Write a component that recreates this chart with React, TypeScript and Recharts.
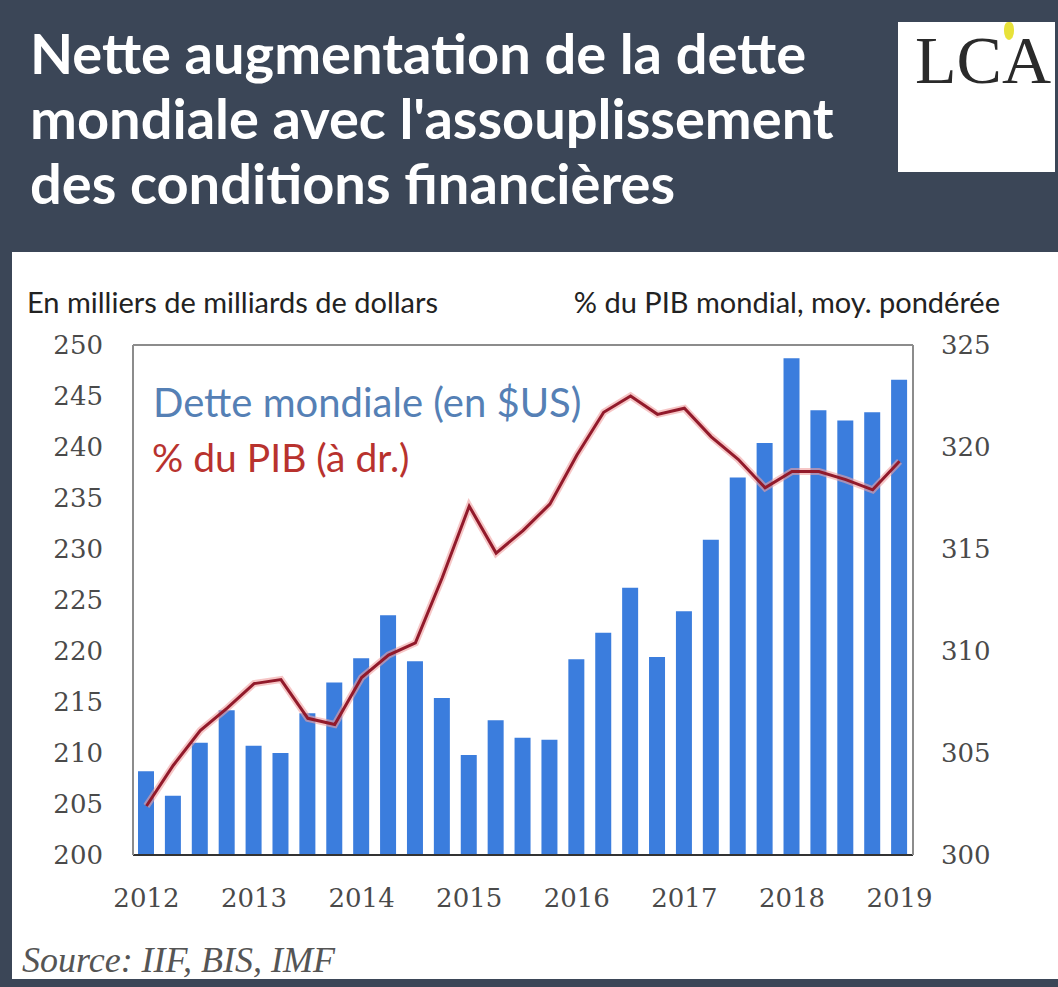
import React from "react";
import { ComposedChart, Bar, Line, XAxis, YAxis, ReferenceLine } from "recharts";

const quarters = [
  "2012 T1", "2012 T2", "2012 T3", "2012 T4",
  "2013 T1", "2013 T2", "2013 T3", "2013 T4",
  "2014 T1", "2014 T2", "2014 T3", "2014 T4",
  "2015 T1", "2015 T2", "2015 T3", "2015 T4",
  "2016 T1", "2016 T2", "2016 T3", "2016 T4",
  "2017 T1", "2017 T2", "2017 T3", "2017 T4",
  "2018 T1", "2018 T2", "2018 T3", "2018 T4",
  "2019 T1",
];

const detteMondiale = [
  208.2, 205.8, 211.0, 214.2,
  210.7, 210.0, 213.9, 216.9,
  219.3, 223.5, 219.0, 215.4,
  209.8, 213.2, 211.5, 211.3,
  219.2, 221.8, 226.2, 219.4,
  223.9, 230.9, 237.0, 240.4,
  248.7, 243.6, 242.6, 243.4,
  246.6,
];

const pibPourcent = [
  302.4, 304.4, 306.1, 307.2,
  308.4, 308.6, 306.7, 306.4,
  308.7, 309.8, 310.4, 313.6,
  317.1, 314.8, 315.9, 317.2,
  319.6, 321.7, 322.5, 321.6,
  321.9, 320.5, 319.4, 318.0,
  318.8, 318.8, 318.4, 317.9,
  319.3,
];

const yearTicks = ["2012 T1", "2013 T1", "2014 T1", "2015 T1", "2016 T1", "2017 T1", "2018 T1", "2019 T1"];
const leftTicks = [200, 205, 210, 215, 220, 225, 230, 235, 240, 245, 250];
const rightTicks = [300, 305, 310, 315, 320, 325];

const data = quarters.map((q, i) => ({ q, dette: detteMondiale[i], pib: pibPourcent[i] }));

const tickStyle = { fill: "#4a4a4a", fontSize: 26, fontFamily: "DejaVu Serif" };

export default function App() {
  return (
    <div style={{ position: "absolute", left: 0, top: 0, width: 1058, height: 987, background: "#3b4657", overflow: "hidden" }}>
      <div style={{ position: "absolute", left: 12, top: 252, width: 1046, height: 727, background: "#ffffff" }} />
      <div style={{ position: "absolute", left: 30, top: 20, fontFamily: "Lato", fontWeight: 700, fontSize: 56, lineHeight: "65px", color: "#ffffff", whiteSpace: "nowrap" }}>
        Nette augmentation de la dette<br />mondiale avec l'assouplissement<br />des conditions financières
      </div>
      <div style={{ position: "absolute", left: 898, top: 22, width: 157, height: 150, background: "#ffffff" }} />
      <div style={{ position: "absolute", left: 915, top: 26, fontFamily: "Liberation Serif", fontSize: 68, lineHeight: 1, color: "#2a2a2a" }}>LCA</div>
      <div style={{ position: "absolute", left: 1004, top: 22, width: 10, height: 18, background: "#e8e23a", borderRadius: "40% 40% 50% 50%" }} />

      <div style={{ position: "absolute", left: 27, top: 287, fontFamily: "Lato", fontSize: 29, lineHeight: 1, color: "#222", whiteSpace: "nowrap" }}>
        En milliers de milliards de dollars
      </div>
      <div style={{ position: "absolute", right: 58, top: 287, fontFamily: "Lato", fontSize: 29, lineHeight: 1, color: "#222", whiteSpace: "nowrap" }}>
        % du PIB mondial, moy. pondérée
      </div>

      <div style={{ position: "absolute", left: 0, top: 0 }}>
        <ComposedChart width={1058} height={987} data={data} margin={{ top: 345, right: 25, bottom: 82, left: 20 }}>
          <XAxis
            dataKey="q"
            ticks={yearTicks}
            interval={0}
            tickFormatter={(v: string) => v.slice(0, 4)}
            axisLine={{ stroke: "#333333", strokeWidth: 2 }}
            tickLine={false}
            tickSize={0}
            tickMargin={34}
            height={50}
            tick={tickStyle}
          />
          <YAxis
            yAxisId="left"
            domain={[200, 250]}
            ticks={leftTicks}
            interval={0}
            width={113}
            axisLine={{ stroke: "#8c8c8c", strokeWidth: 2 }}
            tickLine={false}
            tickSize={0}
            tickMargin={30}
            tick={tickStyle}
          />
          <YAxis
            yAxisId="right"
            orientation="right"
            domain={[300, 325]}
            ticks={rightTicks}
            interval={0}
            width={120}
            axisLine={{ stroke: "#8c8c8c", strokeWidth: 2 }}
            tickLine={false}
            tickSize={0}
            tickMargin={28}
            tick={tickStyle}
          />
          <ReferenceLine yAxisId="left" y={250} stroke="#8c8c8c" strokeWidth={2} />
          <Bar yAxisId="left" dataKey="dette" fill="#3b7ddd" barSize={16} isAnimationActive={false} />
          <Line yAxisId="right" dataKey="pib" stroke="#f0a0a0" strokeOpacity={0.6} strokeWidth={7} dot={false} isAnimationActive={false} />
          <Line yAxisId="right" dataKey="pib" stroke="#921a2b" strokeWidth={3} dot={false} isAnimationActive={false} />
        </ComposedChart>
      </div>

      <div style={{ position: "absolute", left: 153, top: 382, fontFamily: "Lato", fontSize: 40, lineHeight: 1, color: "#5580b5", whiteSpace: "nowrap" }}>
        Dette mondiale (en $US)
      </div>
      <div style={{ position: "absolute", left: 152, top: 438, fontFamily: "Lato", fontSize: 39, lineHeight: 1, color: "#b8322e", whiteSpace: "nowrap" }}>
        % du PIB (à dr.)
      </div>
      <div style={{ position: "absolute", left: 22, top: 942, fontFamily: "Liberation Serif", fontStyle: "italic", fontSize: 36, lineHeight: 1, color: "#555", whiteSpace: "nowrap" }}>
        Source: IIF, BIS, IMF
      </div>
    </div>
  );
}
